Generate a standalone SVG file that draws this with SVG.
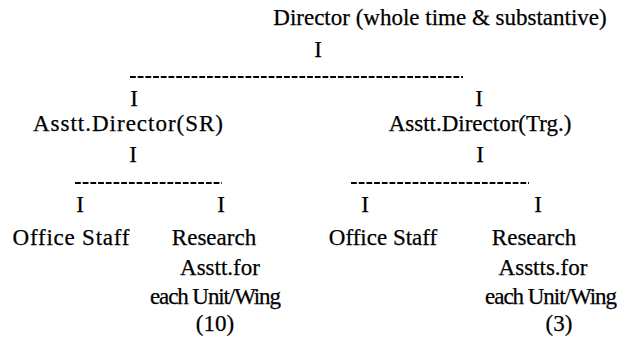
<svg xmlns="http://www.w3.org/2000/svg" width="620" height="339" viewBox="0 0 620 339">
<style>
text{font-family:"Liberation Serif","Times New Roman",serif;font-size:23px;fill:#000;stroke:#000;stroke-width:0.25;text-anchor:middle}
.dash{stroke:#000;stroke-width:1.8;stroke-dasharray:5.8 1.9;fill:none}
</style>
<rect width="620" height="339" fill="#fff"/>
<g id="connectors">
<text x="318" y="57">I</text>
<line class="dash" x1="130" y1="77" x2="463" y2="77"/>
<text x="134" y="106">I</text>
<text x="479" y="106">I</text>
<text x="133" y="162">I</text>
<text x="480" y="162">I</text>
<line class="dash" x1="75" y1="183" x2="222" y2="183"/>
<line class="dash" x1="351" y1="183" x2="529" y2="183"/>
<text x="80" y="212">I</text>
<text x="221" y="212">I</text>
<text x="365" y="212">I</text>
<text x="538" y="212">I</text>
</g>
<g id="director"><text x="440" y="25">Director (whole time &amp; substantive)</text></g>
<g id="asst-sr"><text x="128" y="131" textLength="190">Asstt.Director(SR)</text></g>
<g id="asst-trg"><text x="480" y="131">Asstt.Director(Trg.)</text></g>
<g id="office-sr"><text x="71" y="245" textLength="117">Office Staff</text></g>
<g id="research-sr">
<text x="214" y="245">Research</text>
<text x="220" y="275">Asstt.for</text>
<text x="215.5" y="304" textLength="131">each Unit/Wing</text>
<text x="215" y="331">(10)</text>
</g>
<g id="office-trg"><text x="383" y="245">Office Staff</text></g>
<g id="research-trg">
<text x="534" y="245">Research</text>
<text x="543" y="275">Asstts.for</text>
<text x="551" y="304" textLength="132">each Unit/Wing</text>
<text x="559" y="331">(3)</text>
</g>
</svg>
